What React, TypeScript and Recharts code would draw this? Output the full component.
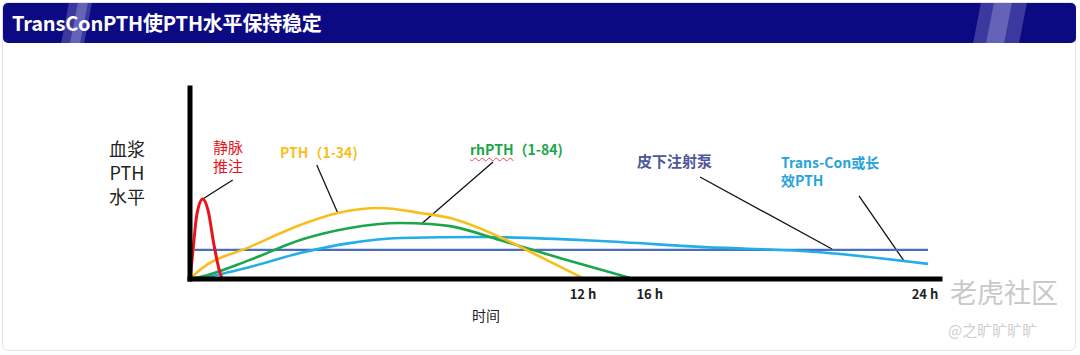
import React from "react";
import {
  LineChart,
  Line,
  XAxis,
  YAxis,
  ReferenceLine,
} from "recharts";

// schematic time position (0-100 across the axis) vs relative PTH level (0-100)
const ivBolus = [
  { x: 0, y: 0 },
  { x: 0.4, y: 15 },
  { x: 0.9, y: 33.5 },
  { x: 1.7, y: 41.9 },
  { x: 2.4, y: 36 },
  { x: 3.2, y: 17.8 },
  { x: 3.9, y: 4.7 },
  { x: 4.3, y: 0 },
];

const pth134 = [
  { x: 0, y: 0 },
  { x: 1.3, y: 4.7 },
  { x: 8, y: 16.8 },
  { x: 14.7, y: 28.3 },
  { x: 19.7, y: 34.6 },
  { x: 25.3, y: 37.2 },
  { x: 30.7, y: 34.6 },
  { x: 34.7, y: 31.9 },
  { x: 41.3, y: 22 },
  { x: 45.7, y: 13.6 },
  { x: 52.4, y: 0.5 },
];

const rhPth184 = [
  { x: 0, y: 0 },
  { x: 1.3, y: 1 },
  { x: 8, y: 10 },
  { x: 14.7, y: 20.4 },
  { x: 21.3, y: 26.7 },
  { x: 28, y: 29.3 },
  { x: 32, y: 28.8 },
  { x: 34.7, y: 27.7 },
  { x: 41.3, y: 20.4 },
  { x: 49.3, y: 11 },
  { x: 58.7, y: 0.5 },
];

const pump = [
  { x: 0.6, y: 15.2 },
  { x: 98.4, y: 15.2 },
];

const transCon = [
  { x: 0, y: 0 },
  { x: 1.3, y: 0.5 },
  { x: 8, y: 6.3 },
  { x: 14.7, y: 13.6 },
  { x: 21.3, y: 18.8 },
  { x: 28, y: 21.5 },
  { x: 38.7, y: 22 },
  { x: 54.7, y: 19.9 },
  { x: 68, y: 16.8 },
  { x: 83.6, y: 14.1 },
  { x: 98.4, y: 7.9 },
];

const tickPos = [52.4, 61.3, 98];
const tickLabels = ["12 h", "16 h", "24 h"];

// leader lines from the labels to their curves
const leaders = [
  [{ x: 1.7, y: 41.9 }, { x: 5.7, y: 51.8 }],
  [{ x: 16.9, y: 59.7 }, { x: 19.7, y: 34.6 }],
  [{ x: 40.4, y: 61.3 }, { x: 31, y: 29.3 }],
  [{ x: 68, y: 53.4 }, { x: 85.6, y: 15.7 }],
  [{ x: 89.2, y: 43.5 }, { x: 95.3, y: 8.9 }],
];

const CJK = '"Noto Sans CJK SC", "Noto Sans", sans-serif';

function Label({
  left,
  top,
  color,
  size = 14,
  bold = true,
  lh = 18,
  center = false,
  children,
  style,
}: any) {
  return (
    <div
      style={{
        position: "absolute",
        left,
        top,
        color,
        fontSize: size,
        fontWeight: bold ? 700 : 400,
        lineHeight: `${lh}px`,
        fontFamily: CJK,
        whiteSpace: "nowrap",
        textAlign: center ? "center" : "left",
        ...style,
      }}
    >
      {children}
    </div>
  );
}

function Stripe({ left, width, alpha }: any) {
  return (
    <div
      style={{
        position: "absolute",
        left,
        top: -4,
        width,
        height: 48,
        background: `rgba(200,200,245,${alpha})`,
        transform: "skewX(-11deg)",
      }}
    />
  );
}

export default function App() {
  return (
    <div
      style={{
        position: "absolute",
        left: 0,
        top: 0,
        width: 1080,
        height: 355,
        background: "#fff",
        overflow: "hidden",
        fontFamily: CJK,
      }}
    >
      {/* card */}
      <div
        style={{
          position: "absolute",
          left: 2,
          top: 2,
          width: 1074,
          height: 349,
          border: "1px solid #dfe5ef",
          borderRadius: 6,
          boxSizing: "border-box",
        }}
      />
      {/* title bar */}
      <div
        style={{
          position: "absolute",
          left: 3,
          top: 3,
          width: 1073,
          height: 40,
          background: "#0c0a82",
          borderRadius: 5,
          overflow: "hidden",
        }}
      >
        <Stripe left={62} width={23} alpha={0.25} />
        <Stripe left={71} width={10} alpha={0.3} />
        <Stripe left={974} width={46} alpha={0.25} />
        <Stripe left={987} width={18} alpha={0.3} />
        <div
          style={{
            position: "absolute",
            left: 9,
            top: 1,
            lineHeight: "38px",
            color: "#fff",
            fontSize: 20,
            fontWeight: 700,
            fontFamily: CJK,
            letterSpacing: -0.2,
          }}
        >
          TransConPTH使PTH水平保持稳定
        </div>
      </div>

      <div style={{ position: "absolute", left: 0, top: 0 }}>
        <LineChart
          width={1080}
          height={355}
          margin={{ top: 88, right: 140, left: 180, bottom: 46 }}
        >
          <XAxis
            dataKey="x"
            type="number"
            domain={[0, 100]}
            ticks={tickPos}
            tickFormatter={(v: number) => tickLabels[tickPos.indexOf(v)] ?? ""}
            tickLine={false}
            tickMargin={5}
            height={30}
            axisLine={{ stroke: "#000", strokeWidth: 5, strokeLinecap: "square" }}
            tick={{ fill: "#222", fontSize: 13, fontWeight: 700, fontFamily: CJK }}
          />
          <YAxis
            type="number"
            domain={[0, 100]}
            width={10}
            tick={false}
            tickLine={false}
            axisLine={{ stroke: "#000", strokeWidth: 5, strokeLinecap: "square" }}
          />
          {leaders.map((seg, i) => (
            <ReferenceLine
              key={i}
              segment={seg}
              stroke="#111"
              strokeWidth={1.3}
              ifOverflow="visible"
            />
          ))}
          <Line
            data={pump}
            dataKey="y"
            type="linear"
            stroke="#4a6fc0"
            strokeWidth={2.2}
            dot={false}
            isAnimationActive={false}
          />
          <Line
            data={transCon}
            dataKey="y"
            type="monotone"
            stroke="#23aee8"
            strokeWidth={2.6}
            dot={false}
            isAnimationActive={false}
          />
          <Line
            data={rhPth184}
            dataKey="y"
            type="monotone"
            stroke="#1aa64a"
            strokeWidth={2.6}
            dot={false}
            isAnimationActive={false}
          />
          <Line
            data={pth134}
            dataKey="y"
            type="monotone"
            stroke="#f8bf1c"
            strokeWidth={2.6}
            dot={false}
            isAnimationActive={false}
          />
          <Line
            data={ivBolus}
            dataKey="y"
            type="monotone"
            stroke="#e8141b"
            strokeWidth={3}
            dot={false}
            isAnimationActive={false}
          />
        </LineChart>
      </div>

      {/* axis titles */}
      <Label left={109} top={136} color="#222" size={18} bold={false} lh={24} center>
        血浆
        <br />
        PTH
        <br />
        水平
      </Label>
      <Label left={472} top={305} color="#222" size={14} bold={false} lh={20}>
        时间
      </Label>

      {/* series labels */}
      <Label left={213} top={137} color="#e8141b" size={15} bold={false} lh={19}>
        静脉
        <br />
        推注
      </Label>
      <Label left={280} top={143} color="#f8bf1c" size={14}>
        PTH（1-34)
      </Label>
      <Label left={470} top={140} color="#1aa64a" size={14}>
        <span
          style={{
            textDecoration: "underline wavy #e05050",
            textDecorationThickness: 1,
            textUnderlineOffset: 2,
          }}
        >
          rhPTH
        </span>
        （1-84)
      </Label>
      <Label left={637} top={152} color="#4f5599" size={15}>
        皮下注射泵
      </Label>
      <Label left={781} top={153} color="#27a3dc" size={14} lh={18}>
        Trans-Con或长
        <br />
        效PTH
      </Label>

      {/* watermark */}
      <Label left={950} top={274} color="#c9c9c9" size={27} bold={false} lh={36}>
        老虎社区
      </Label>
      <Label left={948} top={320} color="#cfcfcf" size={15} bold={false} lh={20}>
        @之旷旷旷旷
      </Label>
    </div>
  );
}
